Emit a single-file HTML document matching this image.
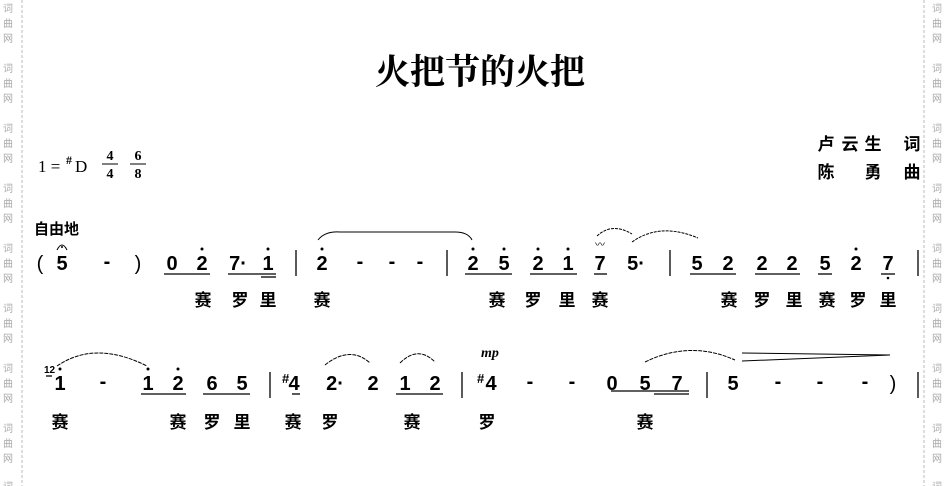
<!DOCTYPE html>
<html><head><meta charset="utf-8"><style>
body{margin:0;background:#fff;}
svg{display:block}
.n{font-family:"Liberation Sans",sans-serif;font-weight:bold;font-size:20px;text-anchor:middle}
.l{font-family:"Liberation Sans","Noto Sans CJK SC",sans-serif;font-weight:bold;font-size:17px;text-anchor:middle}
.w{font-family:"Noto Sans CJK SC",sans-serif;font-size:10px;fill:#aaa;text-anchor:middle}
</style></head><body>
<svg width="946" height="486" viewBox="0 0 946 486" xmlns="http://www.w3.org/2000/svg">
<line x1="22" y1="0" x2="22" y2="486" stroke="#bbb" stroke-dasharray="3,2"/>
<line x1="924" y1="0" x2="924" y2="486" stroke="#bbb" stroke-dasharray="3,2"/>
<g id="wm">
<text class="w" x="8" y="12">词</text><text class="w" x="8" y="27">曲</text><text class="w" x="8" y="42">网</text>
<text class="w" x="8" y="72">词</text><text class="w" x="8" y="87">曲</text><text class="w" x="8" y="102">网</text>
<text class="w" x="8" y="132">词</text><text class="w" x="8" y="147">曲</text><text class="w" x="8" y="162">网</text>
<text class="w" x="8" y="192">词</text><text class="w" x="8" y="207">曲</text><text class="w" x="8" y="222">网</text>
<text class="w" x="8" y="252">词</text><text class="w" x="8" y="267">曲</text><text class="w" x="8" y="282">网</text>
<text class="w" x="8" y="312">词</text><text class="w" x="8" y="327">曲</text><text class="w" x="8" y="342">网</text>
<text class="w" x="8" y="372">词</text><text class="w" x="8" y="387">曲</text><text class="w" x="8" y="402">网</text>
<text class="w" x="8" y="432">词</text><text class="w" x="8" y="447">曲</text><text class="w" x="8" y="462">网</text>
<text class="w" x="8" y="490">词</text>
</g>
<use href="#wm" x="929"/>
<text x="480" y="84" style="font-family:'Liberation Serif','Noto Serif CJK SC',serif;font-weight:bold;font-size:35px;text-anchor:middle">火把节的火把</text>
<text x="38" y="172" style="font-family:'Liberation Serif',serif;font-size:17px">1 =</text>
<text x="66" y="164" style="font-family:'Liberation Serif',serif;font-size:12px;font-weight:bold">#</text>
<text x="75" y="172" style="font-family:'Liberation Serif',serif;font-size:17px">D</text>
<text class="n" x="110" y="160" style="font-size:14px;font-family:'Liberation Serif',serif">4</text>
<line x1="102" y1="164" x2="118" y2="164" stroke="#000"/>
<text class="n" x="110" y="178" style="font-size:14px;font-family:'Liberation Serif',serif">4</text>
<text class="n" x="138" y="160" style="font-size:14px;font-family:'Liberation Serif',serif">6</text>
<line x1="130" y1="164" x2="146" y2="164" stroke="#000"/>
<text class="n" x="138" y="178" style="font-size:14px;font-family:'Liberation Serif',serif">8</text>
<text class="l" x="826" y="150">卢</text><text class="l" x="850" y="150">云</text><text class="l" x="873" y="150">生</text><text class="l" x="912" y="150">词</text>
<text class="l" x="826" y="178">陈</text><text class="l" x="873" y="178">勇</text><text class="l" x="912" y="178">曲</text>
<text class="l" x="34" y="234" style="text-anchor:start;font-size:15px">自由地</text>
<g class="n">
<text x="40" y="270" style="font-weight:normal">(</text><text x="62" y="270">5</text><text x="107" y="268">-</text><text x="138" y="270" style="font-weight:normal">)</text>
<text x="172" y="270">0</text><text x="202" y="270">2</text><text x="238" y="270">7·</text><text x="268" y="270">1</text>
<text x="322" y="270">2</text><text x="360" y="268">-</text><text x="392" y="268">-</text><text x="420" y="268">-</text>
<text x="473" y="270">2</text><text x="504" y="270">5</text><text x="538" y="270">2</text><text x="568" y="270">1</text><text x="600" y="270">7</text><text x="636" y="270">5·</text>
<text x="697" y="270">5</text><text x="728" y="270">2</text><text x="762" y="270">2</text><text x="792" y="270">2</text><text x="825" y="270">5</text><text x="856" y="270">2</text><text x="888" y="270">7</text>
</g>
<g fill="#000"><circle cx="202" cy="249" r="1.5"/><circle cx="268" cy="249" r="1.5"/><circle cx="322" cy="249" r="1.5"/><circle cx="473" cy="249" r="1.5"/><circle cx="504" cy="249" r="1.5"/><circle cx="538" cy="249" r="1.5"/><circle cx="568" cy="249" r="1.5"/><circle cx="856" cy="249" r="1.5"/><circle cx="888" cy="278" r="1.3"/></g>
<path d="M57 250 Q62 240 67 250" fill="none" stroke="#000"/><circle cx="62" cy="247" r="1"/>
<text x="600" y="248" style="font-size:10px;text-anchor:middle">〰</text>
<g stroke="#000" stroke-width="1.3">
<line x1="296" y1="250" x2="296" y2="276"/><line x1="447" y1="250" x2="447" y2="276"/><line x1="670" y1="250" x2="670" y2="276"/><line x1="918" y1="250" x2="918" y2="276"/>
<line x1="164" y1="274" x2="210" y2="274"/><line x1="228" y1="274" x2="276" y2="274"/><line x1="261" y1="277" x2="276" y2="277"/>
<line x1="465" y1="274" x2="512" y2="274"/><line x1="530" y1="274" x2="577" y2="274"/><line x1="594" y1="274" x2="607" y2="274"/>
<line x1="690" y1="274" x2="736" y2="274"/><line x1="755" y1="274" x2="800" y2="274"/><line x1="818" y1="274" x2="832" y2="274"/><line x1="881" y1="274" x2="895" y2="274"/>
</g>
<g fill="none" stroke="#000">
<path d="M318 240 Q325 231 340 232 L455 232 Q468 232 472 240"/>
<path d="M597 236 Q612 222 632 234" stroke-dasharray="3,1"/>
<path d="M632 242 Q660 222 698 238" stroke-dasharray="3,1"/>
</g>
<g class="l">
<text x="203" y="306">赛</text><text x="240" y="306">罗</text><text x="268" y="306">里</text><text x="322" y="306">赛</text>
<text x="497" y="306">赛</text><text x="533" y="306">罗</text><text x="567" y="306">里</text><text x="600" y="306">赛</text>
<text x="729" y="306">赛</text><text x="762" y="306">罗</text><text x="794" y="306">里</text><text x="827" y="306">赛</text><text x="858" y="306">罗</text><text x="888" y="306">里</text>
</g>
<text x="44" y="373" style="font-family:'Liberation Sans';font-weight:bold;font-size:10px">12</text>
<text x="490" y="357" style="font-family:'Liberation Serif',serif;font-weight:bold;font-style:italic;font-size:14px;text-anchor:middle">mp</text>
<g class="n">
<text x="60" y="390">1</text><text x="103" y="388">-</text><text x="148" y="390">1</text><text x="178" y="390">2</text><text x="212" y="390">6</text><text x="242" y="390">5</text>
<text x="294" y="390">4</text><text x="335" y="390">2·</text><text x="373" y="390">2</text><text x="405" y="390">1</text><text x="435" y="390">2</text>
<text x="491" y="390">4</text><text x="530" y="388">-</text><text x="572" y="388">-</text><text x="612" y="390">0</text><text x="645" y="390">5</text><text x="677" y="390">7</text>
<text x="733" y="390">5</text><text x="778" y="388">-</text><text x="820" y="388">-</text><text x="865" y="388">-</text><text x="893" y="390" style="font-weight:normal">)</text>
</g>
<text x="282" y="383" style="font-family:'Liberation Sans';font-weight:bold;font-size:13px">#</text>
<text x="477" y="383" style="font-family:'Liberation Sans';font-weight:bold;font-size:13px">#</text>
<g fill="#000"><circle cx="60" cy="369" r="1.5"/><circle cx="148" cy="369" r="1.5"/><circle cx="178" cy="369" r="1.5"/></g>
<g stroke="#000" stroke-width="1.3">
<line x1="270" y1="372" x2="270" y2="398"/><line x1="462" y1="372" x2="462" y2="398"/><line x1="707" y1="372" x2="707" y2="398"/><line x1="918" y1="372" x2="918" y2="398"/>
<line x1="141" y1="394" x2="186" y2="394"/><line x1="203" y1="394" x2="250" y2="394"/><line x1="396" y1="394" x2="443" y2="394"/><line x1="292" y1="394" x2="300" y2="394"/>
<line x1="611" y1="391" x2="689" y2="391"/><line x1="654" y1="394" x2="689" y2="394"/>
<line x1="46" y1="376" x2="52" y2="376"/>
</g>
<g fill="none" stroke="#000" stroke-dasharray="4,1">
<path d="M57 366 Q95 340 147 366"/>
<path d="M325 365 Q350 345 370 363"/><path d="M400 363 Q418 345 435 362"/>
<path d="M645 362 Q690 340 735 360"/>
</g>
<g stroke="#000">
<line x1="742" y1="353" x2="890" y2="355"/><line x1="742" y1="361" x2="890" y2="355"/>
</g>
<g class="l">
<text x="60" y="428">赛</text><text x="178" y="428">赛</text><text x="212" y="428">罗</text><text x="242" y="428">里</text>
<text x="293" y="428">赛</text><text x="330" y="428">罗</text><text x="412" y="428">赛</text><text x="487" y="428">罗</text><text x="645" y="428">赛</text>
</g>
</svg>
</body></html>
